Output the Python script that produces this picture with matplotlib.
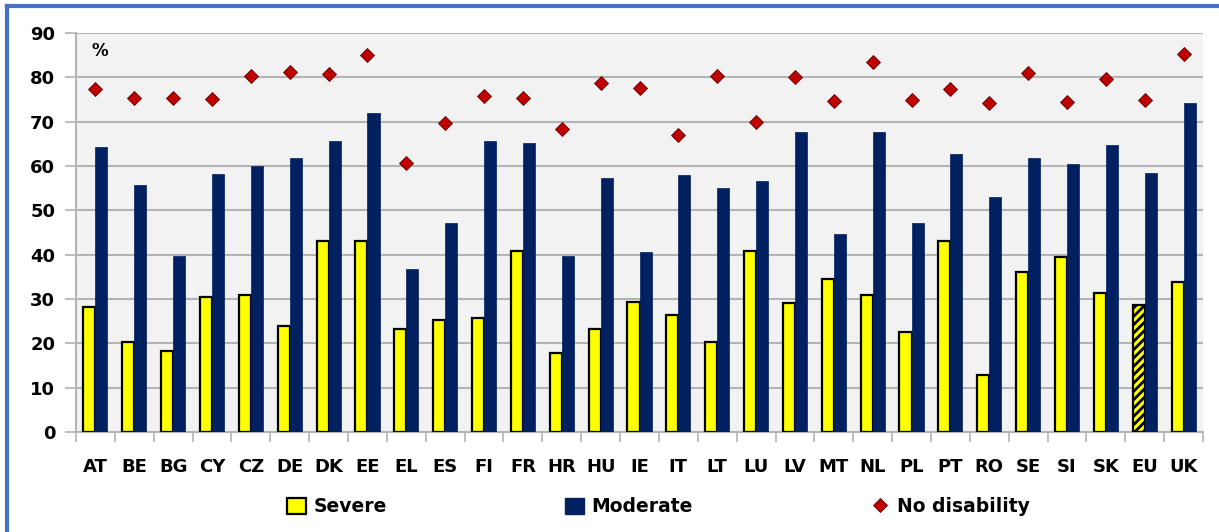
import matplotlib
matplotlib.use("Agg")
import matplotlib.pyplot as plt
from matplotlib.lines import Line2D
from matplotlib.patches import Patch
import numpy as np

countries = ["AT", "BE", "BG", "CY", "CZ", "DE", "DK", "EE", "EL", "ES", "FI", "FR",
             "HR", "HU", "IE", "IT", "LT", "LU", "LV", "MT", "NL", "PL", "PT", "RO",
             "SE", "SI", "SK", "EU", "UK"]
severe = [28.3, 20.3, 18.3, 30.5, 31.0, 24.0, 43.0, 43.0, 23.2, 25.3, 25.8, 40.9,
          17.8, 23.2, 29.4, 26.3, 20.3, 40.8, 29.0, 34.4, 30.8, 22.5, 43.0, 12.9,
          36.0, 39.5, 31.3, 28.7, 33.8]
moderate = [64.2, 55.7, 39.8, 58.2, 60.0, 61.8, 65.6, 72.0, 36.8, 47.2, 65.6, 65.1,
            39.7, 57.2, 40.6, 57.9, 55.0, 56.6, 67.6, 44.7, 67.6, 47.2, 62.6, 53.0,
            61.8, 60.4, 64.7, 58.4, 74.1]
no_disability = [77.4, 75.4, 75.4, 75.1, 80.4, 81.2, 80.8, 85.1, 60.7, 69.8, 75.8, 75.3,
                 68.3, 78.8, 77.5, 67.0, 80.3, 70.0, 80.0, 74.7, 83.5, 75.0, 77.3, 74.2,
                 81.0, 74.4, 79.6, 74.9, 85.2]
yticks = [0, 10, 20, 30, 40, 50, 60, 70, 80, 90]

YELLOW = "#FFFF00"
NAVY = "#002060"
RED = "#C00000"
GRID = "#B4B4B4"

plt.rcParams["font.family"] = ["DejaVu Sans"]
plt.rcParams["hatch.linewidth"] = 2.0

W, H = 1219, 532
fig = plt.figure(figsize=(W / 100, H / 100), dpi=100)
ax = fig.add_axes([76 / W, (H - 432) / H, (1203 - 76) / W, (432 - 33) / H])
ax.set_facecolor("#F2F2F2")

x = np.arange(len(countries))
bw = 0.31
sev_bars = ax.bar(x - bw / 2, severe, width=bw, color=YELLOW, edgecolor="black",
                  linewidth=1.6, zorder=3)
eu_i = countries.index("EU")
sev_bars[eu_i].set_hatch("////")
ax.bar(x + bw / 2, moderate, width=bw, color=NAVY, edgecolor=NAVY, linewidth=0.5, zorder=3)
ax.plot(x, no_disability, linestyle="none", marker="D", markersize=7.5,
        markerfacecolor=RED, markeredgecolor="#5a0000", markeredgewidth=0.6, zorder=4)

ax.set_xlim(-0.5, len(countries) - 0.5)
ax.set_ylim(0, 90)
ax.set_yticks(yticks)
ax.set_yticklabels([str(t) for t in yticks], fontsize=13, fontweight="bold")
ax.yaxis.grid(True, color=GRID, linewidth=1.5, zorder=0)
ax.set_axisbelow(True)

ax.set_xticks(x)
ax.set_xticklabels(countries, fontsize=13, fontweight="bold")
ax.tick_params(axis="x", length=0, pad=19)
ax.set_xticks(np.arange(-0.5, len(countries), 1.0), minor=True)
ax.tick_params(axis="x", which="minor", length=7, width=1.2, color=GRID, direction="out")
ax.tick_params(axis="y", length=8, width=1.2, color=GRID, direction="out", pad=7)

for side in ["top", "right"]:
    ax.spines[side].set_visible(False)
for side in ["left", "bottom"]:
    ax.spines[side].set_color(GRID)
    ax.spines[side].set_linewidth(1.5)

ax.text(0.014, 0.955, "%", transform=ax.transAxes, fontsize=12, fontweight="bold",
        ha="left", va="center")

handles = [
    Patch(facecolor=YELLOW, edgecolor="black", linewidth=1.6, label="Severe"),
    Patch(facecolor=NAVY, edgecolor=NAVY, label="Moderate"),
    Line2D([], [], linestyle="none", marker="D", markersize=7, markerfacecolor=RED,
           markeredgecolor="#5a0000", markeredgewidth=0.6, label="No disability"),
]
fig.legend(handles=handles, loc="center left", bbox_to_anchor=(287 / W, 1 - 507 / H),
           ncol=3, frameon=False, prop={"size": 13.5, "weight": "bold"},
           handlelength=1.0, handleheight=0.9, handletextpad=0.4, columnspacing=9.5,
           borderaxespad=0, borderpad=0)

# blue frame (top and left edges visible in the reference)
fig.add_artist(Line2D([7 / W, 1.0], [1 - 6 / H, 1 - 6 / H], color="#4472C4",
                      linewidth=3.0, transform=fig.transFigure))
fig.add_artist(Line2D([7 / W, 7 / W], [0.0, 1 - 6 / H], color="#4472C4",
                      linewidth=3.0, transform=fig.transFigure))

fig.savefig("out.png", dpi=100, facecolor="white")
